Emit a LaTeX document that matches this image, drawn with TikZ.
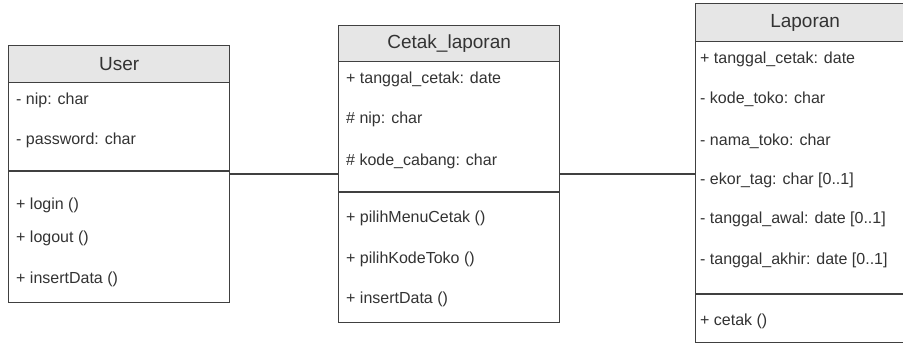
\documentclass[tikz,border=0pt]{standalone}
\usepackage{fontspec}
\setmainfont{Liberation Sans}
\definecolor{edge}{HTML}{404040}
\definecolor{headfill}{HTML}{E6E6E6}
\definecolor{ink}{HTML}{333333}
\begin{document}
\begin{tikzpicture}[x=1pt,y=-1pt,
  classbox/.style={draw=edge, line width=1.3pt, fill=white, rectangle, inner sep=0pt, anchor=north west},
  headbox/.style={draw=edge, line width=1.3pt, fill=headfill, rectangle, inner sep=0pt, anchor=north west},
  headtext/.style={text=ink, inner sep=0pt, font=\fontsize{19}{22}\selectfont},
  member/.style={text=ink, inner sep=0pt, anchor=west, text height=11.5pt, text depth=3.5pt, font=\fontsize{16}{19}\selectfont},
  sepline/.style={draw=edge, line width=1.3pt},
  assoc/.style={draw=edge, line width=1.3pt}]
\useasboundingbox (0,0) rectangle (903,344);
\clip (0,0) rectangle (903,344);

% ---- User ----
\node[classbox, minimum width=221pt, minimum height=257pt] (user) at (8,45) {};
\node[headbox, minimum width=221pt, minimum height=37pt] (userhead) at (8,45) {};
\node[headtext] (usertitle) at (userhead.center) {User};
\draw[sepline] (8,171) coordinate (usersepL) -- (229,171) coordinate (usersepR);
\node[member] (u1) at (16,101) {- nip: char};
\node[member] (u2) at (16,141) {- password: char};
\node[member] (u3) at (16,206) {+ login ()};
\node[member] (u4) at (16,239) {+ logout ()};
\node[member] (u5) at (16,280) {+ insertData ()};

% ---- Cetak_laporan ----
\node[classbox, minimum width=221pt, minimum height=297pt] (cetak) at (338,25) {};
\node[headbox, minimum width=221pt, minimum height=36pt] (cetakhead) at (338,25) {};
\node[headtext] (cetaktitle) at (cetakhead.center) {Cetak\_laporan};
\draw[sepline] (338,192) coordinate (cetaksepL) -- (559,192) coordinate (cetaksepR);
\node[member] (c1) at (346,80) {+ tanggal\_cetak: date};
\node[member] (c2) at (346,120) {\# nip: char};
\node[member] (c3) at (346,162) {\# kode\_cabang: char};
\node[member] (c4) at (346,219) {+ pilihMenuCetak ()};
\node[member] (c5) at (346,260) {+ pilihKodeToko ()};
\node[member] (c6) at (346,300) {+ insertData ()};

% ---- Laporan ----
\node[classbox, minimum width=219pt, minimum height=339pt] (lap) at (695,3) {};
\node[headbox, minimum width=219pt, minimum height=38pt] (laphead) at (695,3) {};
\node[headtext] (laptitle) at (laphead.center) {Laporan};
\draw[sepline] (695,294) coordinate (lapsepL) -- (914,294) coordinate (lapsepR);
\node[member] (l1) at (700,60) {+ tanggal\_cetak: date};
\node[member] (l2) at (700,100) {- kode\_toko: char};
\node[member] (l3) at (700,142) {- nama\_toko: char};
\node[member] (l4) at (700,181) {- ekor\_tag: char [0..1]};
\node[member] (l5) at (700,220) {- tanggal\_awal: date [0..1]};
\node[member] (l6) at (700,261) {- tanggal\_akhir: date [0..1]};
\node[member] (l7) at (700,322) {+ cetak ()};

% ---- associations ----
\draw[assoc] (user.east |- cetak.west) -- (cetak.west);
\draw[assoc] (cetak.east) -- (lap.west |- cetak.east);
\end{tikzpicture}
\end{document}
